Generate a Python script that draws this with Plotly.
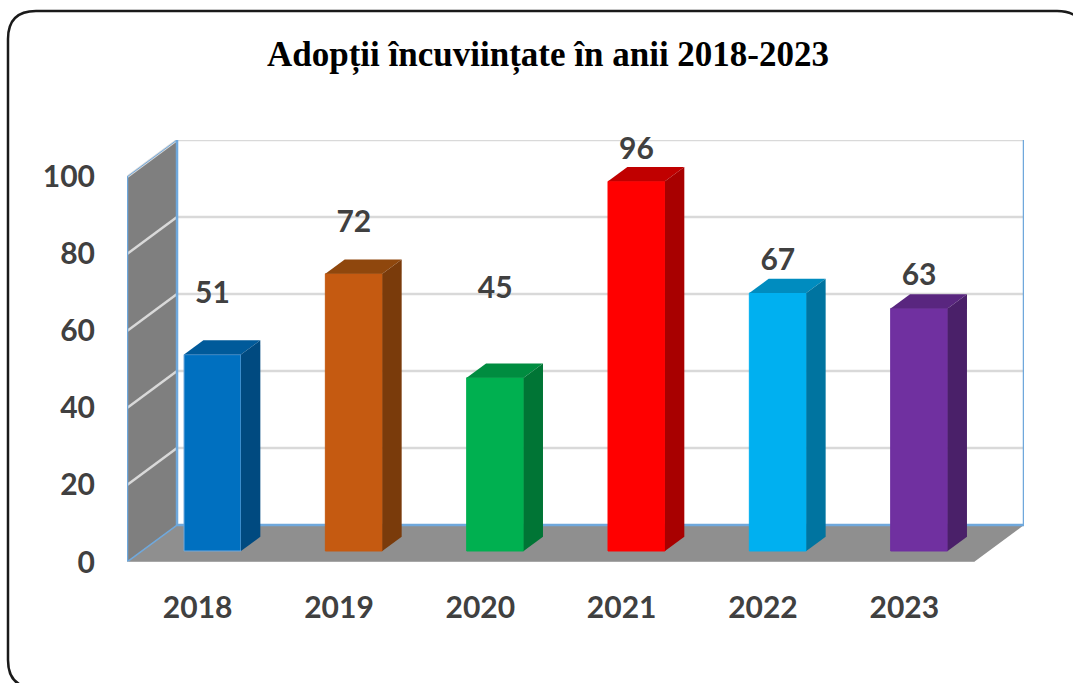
"""Adoption bar chart drawn as a pseudo-3D column chart with Plotly."""

import plotly.graph_objects as go

# data
YEARS = ["2018", "2019", "2020", "2021", "2022", "2023"]
VALUES = [51, 72, 45, 96, 67, 63]
Y_TICKS = [0, 20, 40, 60, 80, 100]
TITLE = "Adopții încuviințate în anii 2018-2023"

# how far each value label floats above its bar, in axis units
LABEL_LIFT = [18.1, 15.7, 25.4, 10.5, 10.7, 11.0]

# colours per bar
FRONT = ["#0070C0", "#C55A11", "#00B050", "#FF0000", "#00B0F0", "#7030A0"]
TOP = ["#005A9A", "#8F470D", "#008C40", "#C00000", "#008CBF", "#59267F"]
SIDE = ["#004A80", "#7A3B0B", "#007535", "#A80000", "#0074A0", "#4A2069"]

# figure geometry
W, H = 1073, 683
FRONT_LEFT_PX, BACK_RIGHT_PX = 127, 1024
FLOOR_PX, TOP_PX = 562, 140

X_MIN, X_MAX = -0.5, 5.847
Y_MAX = 109.6

# wall depth and bar placement, in axis units
WALL_DX, WALL_DY = 0.354, 9.6
BAR_SHIFT_X, BAR_SHIFT_Y = 0.105, 2.86
BAR_WIDTH = 0.403
BAR_DX, BAR_DY = 0.137, 3.7

WALL_GREY = "#7F7F7F"
FLOOR_GREY = "#8F8F8F"
GRID = "#D9D9D9"
EDGE = "#6FA8DC"
TEXT = "#404040"


def polygon(points, color):
    path = "M " + " L ".join(f"{x},{y}" for x, y in points) + " Z"
    return dict(type="path", path=path, xref="x", yref="y", layer="below",
                fillcolor=color, line=dict(width=0))


def segment(x0, y0, x1, y1, color, width):
    return dict(type="line", x0=x0, y0=y0, x1=x1, y1=y1, xref="x", yref="y",
                layer="below", line=dict(color=color, width=width))


back_left = X_MIN + WALL_DX
back_right = X_MAX
front_right = X_MAX - WALL_DX

shapes = [
    # left wall and floor
    polygon([(X_MIN, 0), (X_MIN, 100), (back_left, 100 + WALL_DY), (back_left, WALL_DY)], WALL_GREY),
    polygon([(X_MIN, 0), (back_left, WALL_DY), (back_right, WALL_DY), (front_right, 0)], FLOOR_GREY),
]

# gridlines run along the left wall and then across the back wall
for tick in Y_TICKS[1:]:
    shapes.append(segment(X_MIN, tick, back_left, tick + WALL_DY, GRID, 2.5))
    shapes.append(segment(back_left, tick + WALL_DY, back_right, tick + WALL_DY, GRID, 2.5))

shapes += [
    segment(X_MIN, 0, X_MIN, 100, EDGE, 2.5),
    segment(back_left, WALL_DY, back_left, 100 + WALL_DY, EDGE, 2.5),
    segment(back_right, WALL_DY, back_right, 100 + WALL_DY, EDGE, 2.5),
    segment(X_MIN, 0, back_left, WALL_DY, EDGE, 1.5),
    segment(back_left, WALL_DY, back_right, WALL_DY, EDGE, 2.5),
    segment(X_MIN, 100, back_left, 100 + WALL_DY, EDGE, 1),
    segment(X_MIN, 0, front_right, 0, "#BFBFBF", 1),
]


# rounded frame of the picture, it runs off the right and bottom of the page
def px(x):
    return x / W


def py(y):
    return 1 - y / H


frame = (
    f"M {px(8)},{py(660)} L {px(8)},{py(39)} Q {px(8)},{py(11)} {px(36)},{py(11)} "
    f"L {px(1057)},{py(11)} Q {px(1085)},{py(11)} {px(1085)},{py(39)} "
    f"M {px(8)},{py(660)} Q {px(8)},{py(688)} {px(36)},{py(688)}"
)
shapes.append(dict(type="path", path=frame, xref="paper", yref="paper",
                   line=dict(color="#1A1A1A", width=2.5)))

fig = go.Figure()

positions = [i + BAR_SHIFT_X for i in range(len(YEARS))]

fig.add_trace(go.Bar(
    x=positions,
    y=VALUES,
    base=BAR_SHIFT_Y,
    width=BAR_WIDTH,
    marker=dict(color=FRONT, line=dict(color=[EDGE] + FRONT[1:], width=1)),
    showlegend=False,
    hoverinfo="skip",
))

# top and side faces of each column follow from its value
for i, value in enumerate(VALUES):
    left = positions[i] - BAR_WIDTH / 2
    right = positions[i] + BAR_WIDTH / 2
    bottom = BAR_SHIFT_Y
    top = BAR_SHIFT_Y + value
    fig.add_trace(go.Scatter(
        x=[left, right, right + BAR_DX, left + BAR_DX, left],
        y=[top, top, top + BAR_DY, top + BAR_DY, top],
        mode="lines", fill="toself", fillcolor=TOP[i],
        line=dict(width=0), showlegend=False, hoverinfo="skip",
    ))
    fig.add_trace(go.Scatter(
        x=[right, right + BAR_DX, right + BAR_DX, right, right],
        y=[bottom, bottom + BAR_DY, top + BAR_DY, top, bottom],
        mode="lines", fill="toself", fillcolor=SIDE[i],
        line=dict(width=0), showlegend=False, hoverinfo="skip",
    ))

fig.add_trace(go.Scatter(
    x=positions,
    y=[v + lift for v, lift in zip(VALUES, LABEL_LIFT)],
    text=[str(v) for v in VALUES],
    mode="text",
    textfont=dict(family="Lato", size=30, color=TEXT, weight="bold"),
    cliponaxis=False,
    showlegend=False,
    hoverinfo="skip",
))

fig.update_layout(
    width=W,
    height=H,
    autosize=False,
    margin=dict(l=0, r=0, t=0, b=0),
    paper_bgcolor="white",
    plot_bgcolor="rgba(0,0,0,0)",
    shapes=shapes,
    xaxis=dict(
        domain=[FRONT_LEFT_PX / W, BACK_RIGHT_PX / W],
        range=[X_MIN, X_MAX],
        automargin=False,
        tickmode="array",
        tickvals=list(range(len(YEARS))),
        ticktext=YEARS,
        tickfont=dict(family="Lato", size=30, color=TEXT, weight="bold"),
        ticklabelstandoff=25,
        showgrid=False,
        zeroline=False,
        showline=False,
        ticks="",
    ),
    yaxis=dict(
        domain=[1 - FLOOR_PX / H, 1 - TOP_PX / H],
        range=[0, Y_MAX],
        automargin=False,
        tickmode="array",
        tickvals=Y_TICKS,
        tickfont=dict(family="Lato", size=30, color=TEXT, weight="bold"),
        ticklabelstandoff=31,
        showgrid=False,
        zeroline=False,
        showline=False,
        ticks="",
    ),
    annotations=[dict(
        text=f"<b>{TITLE}</b>",
        xref="paper", yref="paper",
        x=548 / W, y=1 - 55 / H,
        xanchor="center", yanchor="middle",
        showarrow=False,
        font=dict(family="Liberation Serif", size=35, color="#000000"),
    )],
)

fig.write_html(
    "out.html",
    config=dict(displayModeBar=False, responsive=False),
    post_script="document.body.style.margin='0';document.body.style.overflow='hidden';",
)
